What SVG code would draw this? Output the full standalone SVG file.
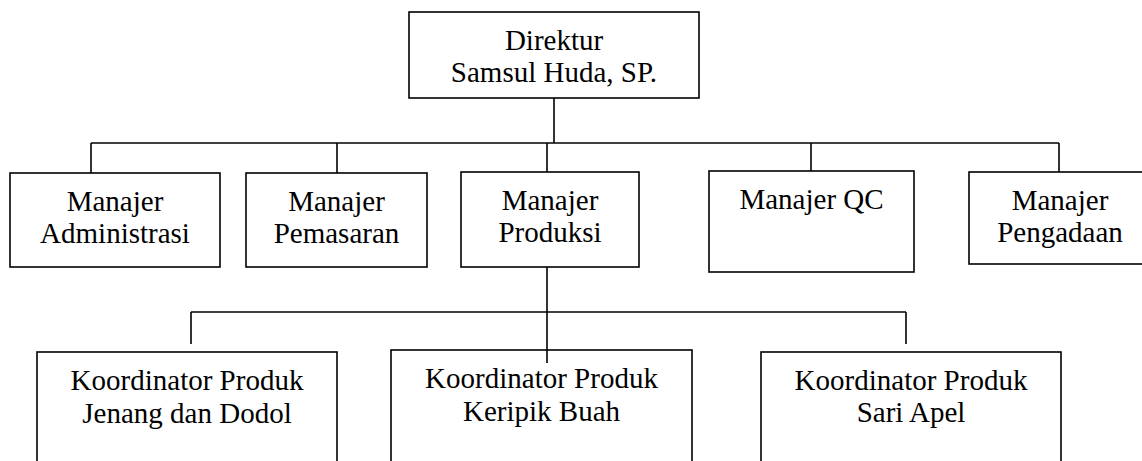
<svg xmlns="http://www.w3.org/2000/svg" width="1142" height="461" viewBox="0 0 1142 461">
<style>
.box{fill:#fff;stroke:#000;stroke-width:1.6}
.ln{fill:none;stroke:#000;stroke-width:1.6}
</style>
<rect width="1142" height="461" fill="#fff"/>
<g id="connectors">
<path class="ln" d="M554 98V143"/>
<path class="ln" d="M91 143H1059"/>
<path class="ln" d="M91 143V173M337 143V173M547 143V172M811 143V171M1059 143V172"/>
<path class="ln" d="M547 267V363"/>
<path class="ln" d="M191 312H906"/>
<path class="ln" d="M191 312V344M906 312V344"/>
</g>
<g font-family="Times New Roman, Liberation Serif, Tinos, serif" font-size="29" fill="#000" text-anchor="middle">
<g id="direktur">
<rect class="box" x="409" y="12" width="290" height="86"/>
<text x="554" y="50">Direktur</text>
<text x="554" y="82">Samsul Huda, SP.</text>
</g>
<g id="administrasi">
<rect class="box" x="10" y="173" width="210" height="94"/>
<text x="115" y="211">Manajer</text>
<text x="115" y="243">Administrasi</text>
</g>
<g id="pemasaran">
<rect class="box" x="246" y="173" width="181" height="94"/>
<text x="336.5" y="211">Manajer</text>
<text x="336.5" y="243">Pemasaran</text>
</g>
<g id="produksi">
<rect class="box" x="461" y="172" width="178" height="95"/>
<text x="550" y="210">Manajer</text>
<text x="550" y="242">Produksi</text>
</g>
<g id="qc">
<rect class="box" x="709" y="171" width="205" height="101"/>
<text x="811.5" y="209">Manajer QC</text>
</g>
<g id="pengadaan">
<rect class="box" x="969" y="172" width="182" height="92"/>
<text x="1060" y="210">Manajer</text>
<text x="1060" y="242">Pengadaan</text>
</g>
<g id="jenang">
<rect class="box" x="37" y="352" width="300" height="120"/>
<text x="187" y="390">Koordinator Produk</text>
<text x="187" y="423">Jenang dan Dodol</text>
</g>
<g id="keripik">
<rect class="box" x="391" y="350" width="301" height="120"/>
<text x="541.5" y="388">Koordinator Produk</text>
<text x="541.5" y="421">Keripik Buah</text>
</g>
<g id="sariapel">
<rect class="box" x="761" y="352" width="300" height="120"/>
<text x="911" y="390">Koordinator Produk</text>
<text x="911" y="422">Sari Apel</text>
</g>
</g>
<path class="ln" d="M547 350V363"/>
</svg>
